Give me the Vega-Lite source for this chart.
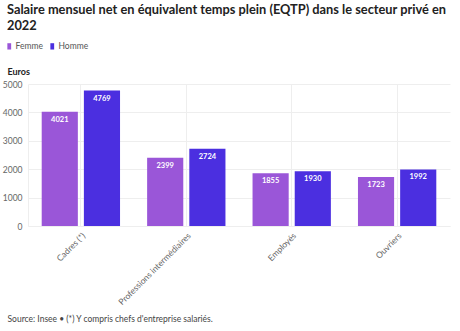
{
  "$schema": "https://vega.github.io/schema/vega-lite/v6.json",
  "width": 422,
  "height": 142,
  "autosize": {"type": "none"},
  "padding": {"left": 28, "top": 84, "right": 10, "bottom": 105},
  "background": "#ffffff",
  "config": {
    "font": "Lato",
    "view": {"stroke": null},
    "axis": {"labelFont": "Lato", "titleFont": "Lato"},
    "legend": {"labelFont": "Lato"}
  },
  "title": {
    "text": ["Salaire mensuel net en équivalent temps plein (EQTP) dans le secteur privé en", "2022"],
    "anchor": "start",
    "frame": "group",
    "baseline": "alphabetic",
    "dx": -21,
    "dy": 1,
    "fontSize": 12.8,
    "fontWeight": "bold",
    "color": "#222222",
    "lineHeight": 16,
    "offset": 0
  },
  "data": {
    "values": [
      {"categorie": "Cadres (*)", "sexe": "Femme", "salaire": 4021},
      {"categorie": "Cadres (*)", "sexe": "Homme", "salaire": 4769},
      {"categorie": "Professions intermédiaires", "sexe": "Femme", "salaire": 2399},
      {"categorie": "Professions intermédiaires", "sexe": "Homme", "salaire": 2724},
      {"categorie": "Employés", "sexe": "Femme", "salaire": 1855},
      {"categorie": "Employés", "sexe": "Homme", "salaire": 1930},
      {"categorie": "Ouvriers", "sexe": "Femme", "salaire": 1723},
      {"categorie": "Ouvriers", "sexe": "Homme", "salaire": 1992}
    ]
  },
  "encoding": {
    "x": {
      "field": "categorie",
      "type": "nominal",
      "sort": null,
      "scale": {"paddingInner": 0.257, "paddingOuter": 0.13},
      "axis": {
        "title": "Source: Insee • (*) Y compris chefs d'entreprise salariés.",
        "titleFontSize": 8.5,
        "titleFontWeight": "normal",
        "titleColor": "#444444",
        "titleAnchor": "start",
        "titleAlign": "left",
        "titleBaseline": "middle",
        "titleX": -21,
        "titleY": 92,
        "labelAngle": -45,
        "labelFontSize": 8.5,
        "labelColor": "#666666",
        "labelPadding": 5,
        "labelLimit": 200,
        "bandPosition": 0.5,
        "grid": true,
        "gridColor": "#eeeeee",
        "gridWidth": 1,
        "ticks": false,
        "domain": true,
        "domainColor": "#eeeeee"
      }
    },
    "xOffset": {
      "field": "sexe",
      "type": "nominal",
      "scale": {"paddingInner": 0.143, "paddingOuter": 0}
    },
    "y": {
      "field": "salaire",
      "type": "quantitative",
      "scale": {"domain": [0, 5000], "nice": false},
      "axis": {
        "title": "Euros",
        "titleAngle": 0,
        "titleAlign": "left",
        "titleBaseline": "middle",
        "titleX": -21,
        "titleY": -13,
        "titleFontSize": 9,
        "titleFontWeight": "bold",
        "titleColor": "#222222",
        "values": [0, 1000, 2000, 3000, 4000, 5000],
        "format": "d",
        "labelFontSize": 8.5,
        "labelColor": "#666666",
        "labelPadding": 6,
        "ticks": false,
        "domain": true,
        "domainColor": "#eeeeee",
        "gridColor": "#eeeeee"
      }
    }
  },
  "layer": [
    {
      "mark": {"type": "bar"},
      "encoding": {
        "color": {
          "field": "sexe",
          "type": "nominal",
          "scale": {"domain": ["Femme", "Homme"], "range": ["#9a56d8", "#4b2fe0"]},
          "legend": {
            "title": null,
            "orient": "none",
            "legendX": -23,
            "legendY": -42,
            "direction": "horizontal",
            "symbolType": "M-0.6,-1H0.6V1H-0.6Z",
            "symbolSize": 40,
            "symbolStrokeWidth": 0,
            "labelFontSize": 8.5,
            "labelColor": "#555555",
            "labelOffset": 2,
            "columnPadding": 5
          }
        }
      }
    },
    {
      "mark": {"type": "text", "baseline": "top", "dy": 4, "color": "#ffffff", "fontWeight": "bold", "fontSize": 7.5},
      "encoding": {
        "text": {"field": "salaire", "type": "quantitative", "format": "d"}
      }
    }
  ]
}
